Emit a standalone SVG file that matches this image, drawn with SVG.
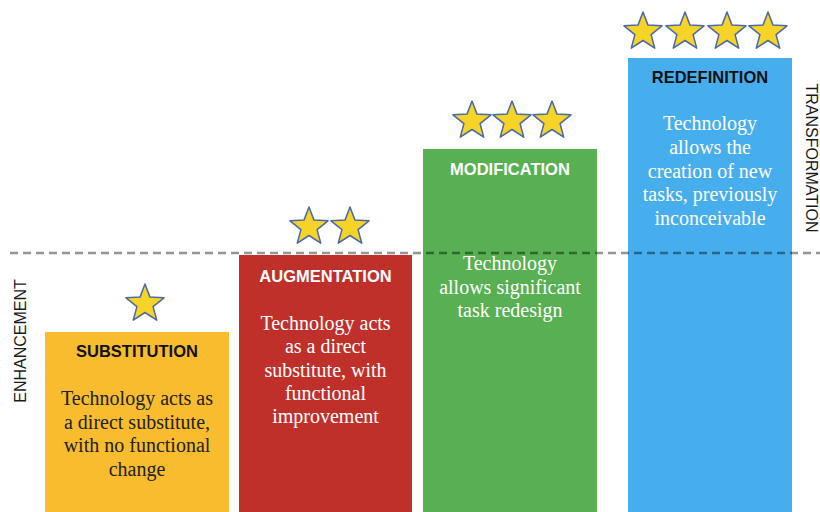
<svg xmlns="http://www.w3.org/2000/svg" width="820" height="512" viewBox="0 0 820 512">
<style>
.title{font-family:"Liberation Sans",Arial,sans-serif;font-weight:bold;font-size:16.5px;text-anchor:middle}
.desc{font-family:"Liberation Serif","Times New Roman",serif;font-size:20px;text-anchor:middle}
.side{font-family:"Liberation Sans",Arial,sans-serif;font-size:16px;fill:#1a1a1a;text-anchor:middle}
.star{fill:#F6D327;stroke:#4A69A6;stroke-width:1.5;stroke-linejoin:round}
</style>
<defs>
<path id="star" d="M0,-20 L5,-6.88 L19.02,-6.18 L8.08,2.63 L11.76,16.18 L0,8.5 L-11.76,16.18 L-8.08,2.63 L-19.02,-6.18 L-5,-6.88 Z"/>
</defs>
<rect width="820" height="512" fill="#fff"/>

<g id="substitution">
<rect x="45" y="332" width="184" height="180" fill="#F8BC2E"/>
<text class="title" x="137" y="357" fill="#111">SUBSTITUTION</text>
<text class="desc" fill="#222"><tspan x="137" y="405">Technology acts as</tspan><tspan x="137" y="428.5">a direct substitute,</tspan><tspan x="137" y="452">with no functional</tspan><tspan x="137" y="475.5">change</tspan></text>
<use href="#star" class="star" x="145" y="304"/>
</g>

<g id="augmentation">
<rect x="239" y="255" width="173" height="257" fill="#C0302B"/>
<text class="title" x="325.5" y="282" fill="#fff">AUGMENTATION</text>
<text class="desc" fill="#fff"><tspan x="325.5" y="330">Technology acts</tspan><tspan x="325.5" y="353">as a direct</tspan><tspan x="325.5" y="376.5">substitute, with</tspan><tspan x="325.5" y="400">functional</tspan><tspan x="325.5" y="423">improvement</tspan></text>
<use href="#star" class="star" x="309" y="227"/>
<use href="#star" class="star" x="350" y="227"/>
</g>

<g id="modification">
<rect x="423" y="149" width="174" height="363" fill="#58B052"/>
<text class="title" x="510" y="175" fill="#fff">MODIFICATION</text>
<text class="desc" fill="#fff"><tspan x="510" y="270">Technology</tspan><tspan x="510" y="293.5">allows significant</tspan><tspan x="510" y="317">task redesign</tspan></text>
<use href="#star" class="star" x="472" y="121"/>
<use href="#star" class="star" x="512" y="121"/>
<use href="#star" class="star" x="552" y="121"/>
</g>

<g id="redefinition">
<rect x="628" y="58" width="164" height="454" fill="#47AEEE"/>
<text class="title" x="710" y="83" fill="#111">REDEFINITION</text>
<text class="desc" fill="#fff"><tspan x="710" y="130">Technology</tspan><tspan x="710" y="154">allows the</tspan><tspan x="710" y="177.5">creation of new</tspan><tspan x="710" y="201">tasks, previously</tspan><tspan x="710" y="224.5">inconceivable</tspan></text>
<use href="#star" class="star" x="643" y="32"/>
<use href="#star" class="star" x="685" y="32"/>
<use href="#star" class="star" x="727" y="32"/>
<use href="#star" class="star" x="768" y="32"/>
</g>

<g id="connectors">
<line x1="10" y1="253" x2="820" y2="253" stroke="#000" stroke-opacity="0.42" stroke-width="2.5" stroke-dasharray="8 5"/>
</g>

<g id="labels">
<text class="side" transform="translate(26,341) rotate(-90)">ENHANCEMENT</text>
<text class="side" transform="translate(806,158) rotate(90)">TRANSFORMATION</text>
</g>
</svg>
